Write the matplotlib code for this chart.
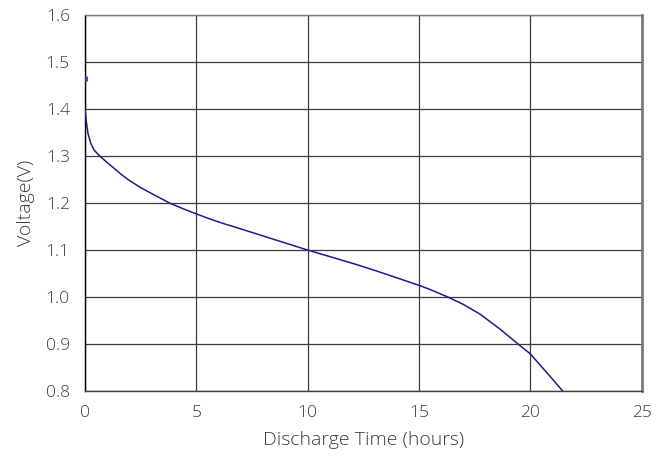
import matplotlib
matplotlib.use('Agg')
import matplotlib.pyplot as plt

plt.rcParams['font.family'] = ['Open Sans', 'DejaVu Sans']

# Discharge curve
time_h = [0, 0.05, 0.13, 0.25, 0.4, 0.66, 1.0, 1.3, 1.6, 1.93, 2.46, 3.0, 3.4, 3.8,
          4.4, 5.0, 5.5, 6.05, 7.0, 8.0, 9.0, 10.0, 11.0, 12.0, 13.0, 14.0, 15.0,
          15.5, 16.3, 17.0, 17.73, 18.63, 19.45, 20.0, 20.5, 21.0, 21.45]
voltage = [1.40, 1.375, 1.348, 1.328, 1.313, 1.30, 1.286, 1.274, 1.262, 1.250, 1.234,
           1.220, 1.210, 1.200, 1.188, 1.177, 1.168, 1.159, 1.145, 1.130, 1.115, 1.100,
           1.086, 1.072, 1.057, 1.041, 1.025, 1.016, 1.000, 0.984, 0.964, 0.932, 0.900,
           0.879, 0.852, 0.825, 0.800]

# short stray mark near the top of the y axis
mark_t = [0.03, 0.03]
mark_v = [1.46, 1.47]

x_ticks = [0, 5, 10, 15, 20, 25]
y_ticks = [0.8, 0.9, 1.0, 1.1, 1.2, 1.3, 1.4, 1.5, 1.6]
y_labels = ['0.8', '0.9', '1.0', '1.1', '1.2', '1.3', '1.4', '1.5', '1.6']

fig = plt.figure(figsize=(6.65, 4.59), dpi=100)
ax = fig.add_axes([0.128, 0.148, 0.837, 0.819])

line_col = '#1c1c8e'
ax.plot(time_h, voltage, color=line_col, linewidth=1.1, zorder=3)
ax.plot(mark_t, mark_v, color='#3a3aa8', linewidth=2.0, zorder=3, solid_capstyle='butt')

ax.set_xlim(0, 25)
ax.set_ylim(0.8, 1.6)
ax.set_xticks(x_ticks)
ax.set_yticks(y_ticks)
ax.set_yticklabels(y_labels)

ax.grid(True, color='#3a3a3a', linewidth=0.9)
ax.set_axisbelow(True)

text_col = '#3c3c3c'
ax.tick_params(axis='both', length=0, labelsize=12.5, colors=text_col)
ax.tick_params(axis='x', pad=10)
ax.tick_params(axis='y', pad=11)
for lbl in ax.get_xticklabels() + ax.get_yticklabels():
    lbl.set_fontweight('light')

ax.set_xlabel('Discharge Time (hours)', fontsize=14, color=text_col,
              fontweight='light', labelpad=7)
ax.set_ylabel('Voltage(V)', fontsize=14, color=text_col,
              fontweight='light', labelpad=8)

ax.spines['left'].set_color('#000000')
ax.spines['left'].set_linewidth(1.0)
ax.spines['bottom'].set_color('#404040')
ax.spines['bottom'].set_linewidth(1.0)
ax.spines['top'].set_color('#7a7a7a')
ax.spines['top'].set_linewidth(1.0)
ax.spines['right'].set_color('#7a7a7a')
ax.spines['right'].set_linewidth(2.0)

plt.savefig('out.png', dpi=100)
plt.close()
